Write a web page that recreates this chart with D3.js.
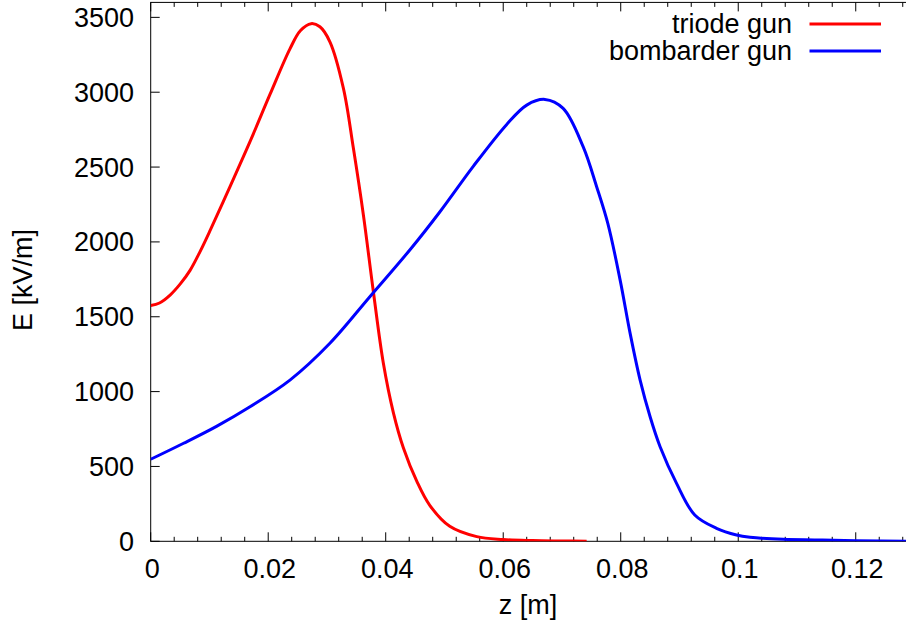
<!DOCTYPE html>
<html>
<head>
<meta charset="utf-8">
<script src="https://cdn.jsdelivr.net/npm/d3@7"></script>
<style>
  html, body { margin: 0; padding: 0; background: #fff; }
  svg { display: block; }
  text { font-family: "Liberation Sans", Arial, Helvetica, sans-serif; fill: #000; }
</style>
</head>
<body>
<svg id="chart" width="906" height="630"></svg>
<script>
// Longitudinal field profiles on axis, E (kV/m) versus z (m)
const triodeZ = [0.000, 0.0015, 0.0033, 0.0050, 0.0067, 0.0084, 0.0101, 0.0135, 0.0169, 0.0203,
                 0.0237, 0.0255, 0.0273, 0.0288, 0.0305, 0.0328, 0.0345, 0.0362, 0.0379, 0.0396,
                 0.0413, 0.0430, 0.0453, 0.0475, 0.0509, 0.0555, 0.0600, 0.0650, 0.0700, 0.0742];
const triodeE = [1575, 1592, 1645, 1718, 1810, 1935, 2075, 2370, 2670, 2985,
                 3290, 3412, 3458, 3437, 3337, 3026, 2625, 2180, 1667, 1189,
                 860, 625, 400, 240, 100, 31, 12, 5, 2, 0];

const bombZ = [0.000, 0.0056, 0.0112, 0.0169, 0.0237, 0.0305, 0.0373, 0.0441, 0.0492, 0.0549,
               0.0606, 0.0640, 0.0671, 0.0702, 0.0736, 0.0759, 0.0778, 0.0799, 0.0816, 0.0833,
               0.0850, 0.0867, 0.0895, 0.0926, 0.0963, 0.0997, 0.1020, 0.1077, 0.1134, 0.1200, 0.1300];
const bombE = [548, 655, 768, 899, 1077, 1323, 1634, 1946, 2200, 2505,
               2785, 2914, 2952, 2892, 2636, 2369, 2124, 1745, 1389, 1077,
               832, 632, 387, 176, 87, 42, 27, 13, 9, 3, 0];

const xTicks = [0, 0.02, 0.04, 0.06, 0.08, 0.1, 0.12];
const yTicks = [0, 500, 1000, 1500, 2000, 2500, 3000, 3500];
const seriesNames = ["triode gun", "bombarder gun"];
const seriesColors = ["#ff0000", "#0000ff"];

const svg = d3.select("#chart");
const plotL = 150.7, plotR = 914.5, plotT = 2.4, plotB = 541.3;
const fontSize = 27;

const x = d3.scaleLinear().domain([0, 0.13]).range([plotL, plotR]);
const y = d3.scaleLinear().domain([0, 3600]).range([plotB, plotT]);

// clip for curves
svg.append("defs").append("clipPath").attr("id", "plotArea")
  .append("rect").attr("x", plotL).attr("y", plotT)
  .attr("width", plotR - plotL).attr("height", plotB - plotT);

// border
svg.append("rect")
  .attr("x", plotL).attr("y", plotT)
  .attr("width", plotR - plotL).attr("height", plotB - plotT)
  .attr("fill", "none").attr("stroke", "#000").attr("stroke-width", 1);

// minor x ticks every 0.004
const minorX = d3.range(0, 0.1301, 0.004).filter(v => Math.abs(v / 0.02 - Math.round(v / 0.02)) > 1e-6);

const ticks = svg.append("g").attr("stroke", "#000").attr("stroke-width", 1);
xTicks.forEach(v => {
  ticks.append("line").attr("x1", x(v)).attr("x2", x(v)).attr("y1", plotB).attr("y2", plotB - 9);
  ticks.append("line").attr("x1", x(v)).attr("x2", x(v)).attr("y1", plotT).attr("y2", plotT + 9);
});
minorX.forEach(v => {
  ticks.append("line").attr("x1", x(v)).attr("x2", x(v)).attr("y1", plotB).attr("y2", plotB - 4.5);
  ticks.append("line").attr("x1", x(v)).attr("x2", x(v)).attr("y1", plotT).attr("y2", plotT + 4.5);
});
yTicks.forEach(v => {
  ticks.append("line").attr("x1", plotL).attr("x2", plotL + 9).attr("y1", y(v)).attr("y2", y(v));
});

// tick labels
svg.append("g").selectAll("text").data(xTicks).join("text")
  .attr("x", d => x(d) + 1.5).attr("y", plotB + 36.5)
  .attr("text-anchor", "middle").attr("font-size", fontSize)
  .text(d => d3.format("~g")(d));

svg.append("g").selectAll("text").data(yTicks).join("text")
  .attr("x", 134).attr("y", d => y(d) + 9.5)
  .attr("text-anchor", "end").attr("font-size", fontSize)
  .text(d => d);

// axis titles
svg.append("text").attr("x", 528).attr("y", 614)
  .attr("text-anchor", "middle").attr("font-size", fontSize).text("z [m]");
svg.append("text")
  .attr("transform", "translate(32,280) rotate(-90)")
  .attr("text-anchor", "middle").attr("font-size", fontSize).text("E [kV/m]");

// curves
const line = d3.line().x(d => x(d[0])).y(d => y(d[1])).curve(d3.curveCatmullRom.alpha(0.5));
const series = [
  d3.zip(triodeZ, triodeE),
  d3.zip(bombZ, bombE)
];
const plot = svg.append("g").attr("clip-path", "url(#plotArea)");
series.forEach((pts, i) => {
  plot.append("path").datum(pts)
    .attr("d", line)
    .attr("fill", "none")
    .attr("stroke", seriesColors[i])
    .attr("stroke-width", 3)
    .attr("stroke-linejoin", "round");
});

// legend
const legend = svg.append("g");
seriesNames.forEach((name, i) => {
  const ly = 24 + i * 27;
  legend.append("text").attr("x", 792).attr("y", ly + 8.5)
    .attr("text-anchor", "end").attr("font-size", fontSize).text(name);
  legend.append("line").attr("x1", 809.5).attr("x2", 881).attr("y1", ly).attr("y2", ly)
    .attr("stroke", seriesColors[i]).attr("stroke-width", 3);
});
</script>
</body>
</html>
